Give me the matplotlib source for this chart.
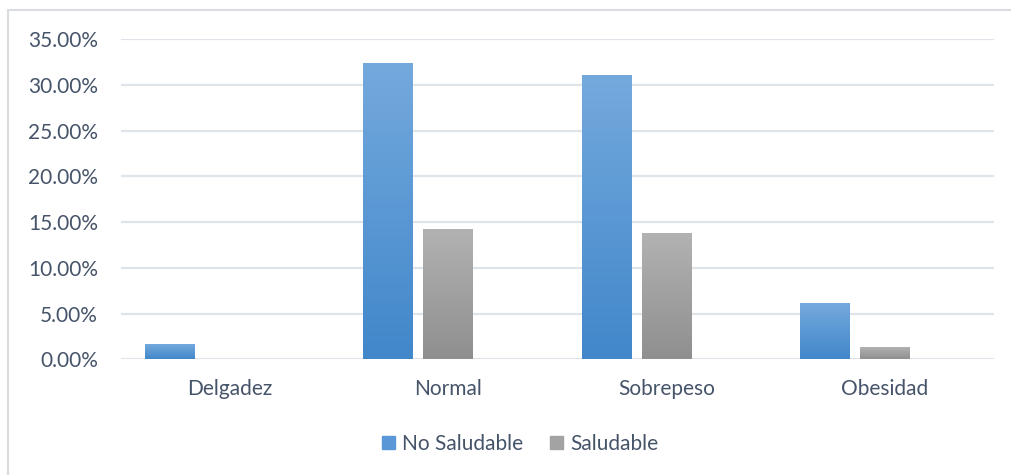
import numpy as np
import matplotlib
matplotlib.use("Agg")
import matplotlib.pyplot as plt
from matplotlib.patches import Rectangle
from matplotlib.colors import LinearSegmentedColormap
from matplotlib.ticker import FuncFormatter

# -----------------------------------------------------------------------------
# Data (percent)
categories = ["Delgadez", "Normal", "Sobrepeso", "Obesidad"]
no_saludable = [1.57, 32.3, 31.0, 6.06]
saludable = [0.0, 14.13, 13.69, 1.24]
series_names = ["No Saludable", "Saludable"]

# Styles
text_color = "#46546a"
grid_color = "#dfe4ea"
blue_top, blue_bottom = "#74a9dd", "#4187ca"
grey_top, grey_bottom = "#b2b2b2", "#8f8f8f"

plt.rcParams["font.family"] = ["Lato", "DejaVu Sans"]

fig = plt.figure(figsize=(10.12, 4.75), dpi=100)
ax = fig.add_axes([121 / 1012, 1 - 359.3 / 475, (994 - 121) / 1012, (359.3 - 39) / 475])

x = np.arange(len(categories))
width = 0.229
offset = 0.275

bars_ns = ax.bar(x - offset, no_saludable, width, color="none", zorder=3)
bars_s = ax.bar(x, saludable, width, color="none", zorder=3)


def gradient_fill(bars, top, bottom):
    """Paint every bar with its own vertical gradient (light on top)"""
    cmap = LinearSegmentedColormap.from_list("g", [bottom, top])
    grad = np.linspace(0, 1, 256).reshape(-1, 1)
    for b in bars:
        h = b.get_height()
        if h <= 0:
            continue
        x0 = b.get_x()
        ax.imshow(grad, cmap=cmap, origin="lower", aspect="auto",
                  extent=[x0, x0 + b.get_width(), 0, h], zorder=3,
                  interpolation="bicubic")


gradient_fill(bars_ns, blue_top, blue_bottom)
gradient_fill(bars_s, grey_top, grey_bottom)

ax.set_xlim(-0.5, len(categories) - 0.5)
ax.set_ylim(0, 35)
ax.set_yticks(np.arange(0, 36, 5))
ax.yaxis.set_major_formatter(FuncFormatter(lambda v, p: f"{v:.2f}%"))
ax.set_xticks(x)
ax.set_xticklabels(categories)

ax.yaxis.grid(True, color=grid_color, linewidth=1.6, zorder=0)
ax.set_axisbelow(True)
for s in ax.spines.values():
    s.set_visible(False)
ax.tick_params(axis="both", length=0, labelsize=15, labelcolor=text_color)
ax.tick_params(axis="y", pad=16.5)
ax.tick_params(axis="x", pad=14)

# Legend
handles = [Rectangle((0, 0), 1, 1, color="#5a97d6"),
           Rectangle((0, 0), 1, 1, color="#a3a3a3")]
leg = fig.legend(handles, series_names, loc="center",
                 bbox_to_anchor=(520 / 1012, 1 - 444 / 475), ncol=2,
                 frameon=False, fontsize=15, handlelength=0.63,
                 handleheight=0.63, handletextpad=0.34, columnspacing=1.3)
for t in leg.get_texts():
    t.set_color(text_color)

# Chart area border (only left and top visible, the rest is cut off)
fig.add_artist(Rectangle((8 / 1012, -0.2), 1.5, 1.2 - 10 / 475,
                         transform=fig.transFigure, fill=False,
                         edgecolor="#d9dde2", linewidth=1.5, clip_on=False))

plt.savefig("out.png", dpi=100)
plt.close()
